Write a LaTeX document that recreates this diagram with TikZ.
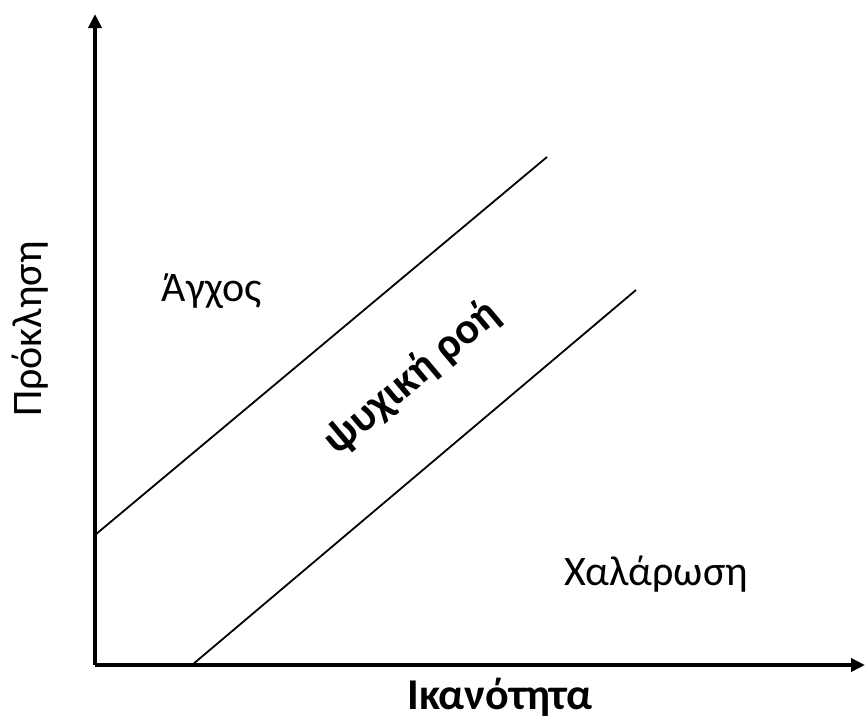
\documentclass[tikz,border=0pt]{standalone}
\usepackage{fontspec}
\setmainfont{Carlito}
\usetikzlibrary{arrows.meta}
\begin{document}
\begin{tikzpicture}[x=1pt,y=-1pt,
  axis/.style={line width=3.5pt,-{Triangle[length=14pt,width=13pt]}},
  diag/.style={line width=1.8pt},
  lbl/.style={font=\fontsize{42}{50}\selectfont, inner sep=0pt},
  blbl/.style={font=\fontsize{44}{52}\selectfont\bfseries, inner sep=0pt}]
\useasboundingbox (0,0) rectangle (865,720);
\coordinate (o) at (95,665);
\coordinate (ytop) at (95,14);
\coordinate (xend) at (865,665);
\coordinate (a1) at (95,535);
\coordinate (a2) at (547,157);
\coordinate (b1) at (192,665);
\coordinate (b2) at (636,290);
\draw[diag] (a1) -- (a2);
\draw[diag] (b1) -- (b2);
\draw[axis] (o) -- (ytop);
\draw[axis] (o) -- (xend);
\node[lbl] (agx) at (212,291) {Άγχος};
\node[lbl] (xal) at (656,574) {Χαλάρωση};
\node[blbl, rotate=40] (flow) at (412,378) {ψυχική ροή};
\node[blbl] (ika) at (500,697) {Ικανότητα};
\node[lbl, rotate=90] (pro) at (30,329) {Πρόκληση};
\end{tikzpicture}
\end{document}
